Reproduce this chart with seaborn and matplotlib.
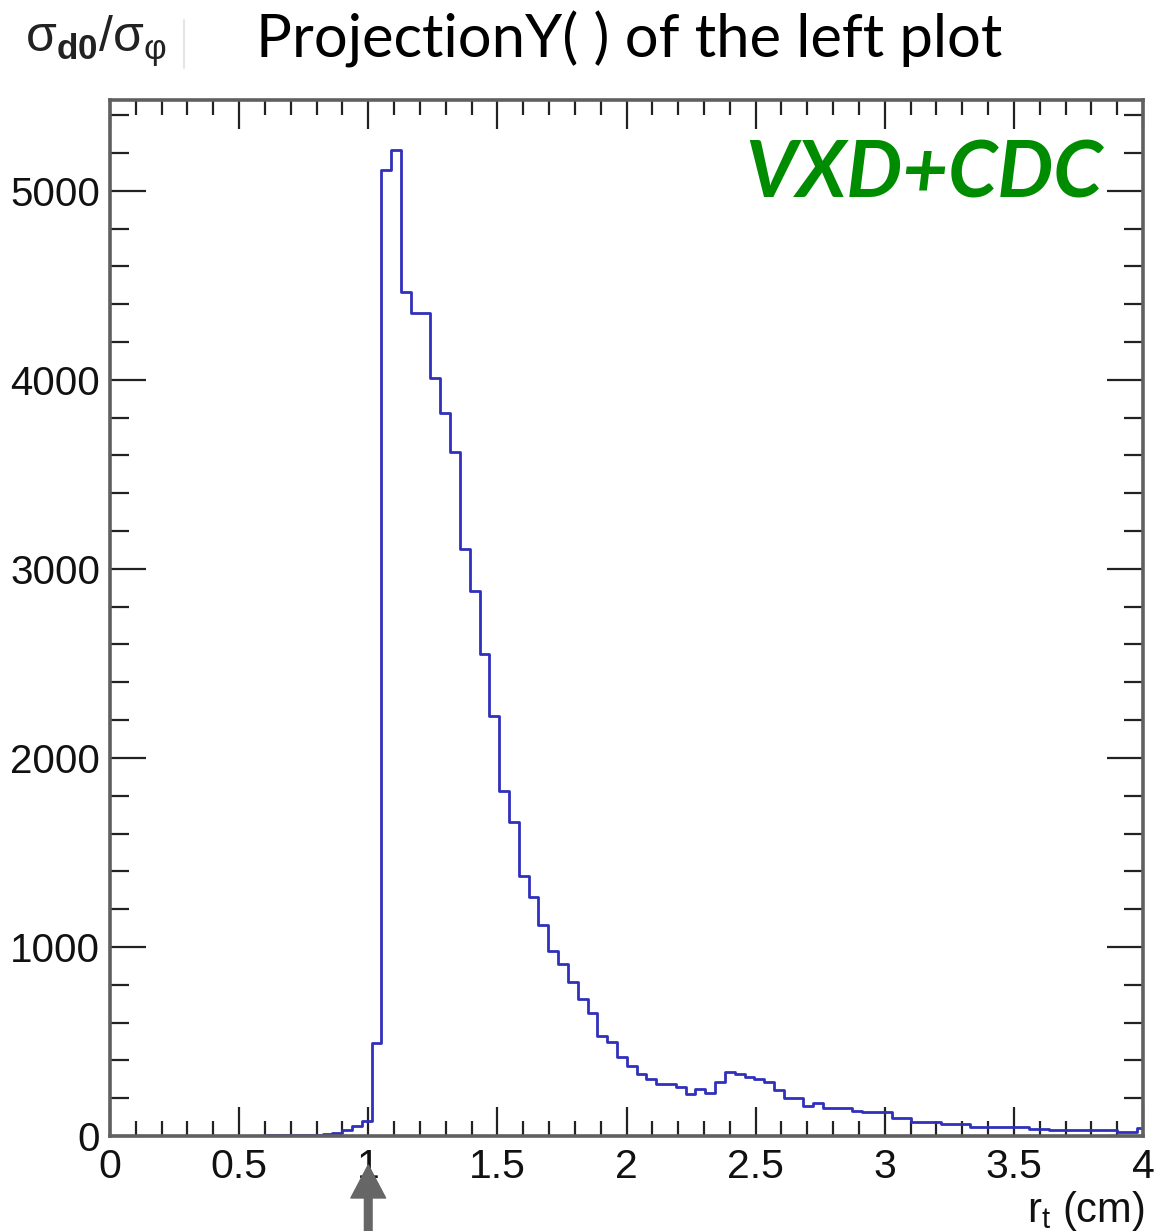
import numpy as np
import pandas as pd
import matplotlib
matplotlib.use("Agg")
import matplotlib.pyplot as plt
import seaborn as sns
from matplotlib.ticker import MultipleLocator, FixedLocator, FixedFormatter
from matplotlib.lines import Line2D

# ---------------- data ----------------
bin_start = 0.595      # left edge of first filled bin (cm)
bin_width = 0.038      # bin width (cm)
counts = [3, 3, 3, 4, 5, 6, 8, 18, 32, 52, 78,
          492, 5111, 5217, 4463, 4354, 4354, 4011, 3826, 3617, 3106,
          2882, 2552, 2220, 1823, 1659, 1376, 1262, 1117, 981, 911,
          812, 724, 653, 529, 499, 417, 372, 328, 302, 275,
          275, 258, 222, 247, 229, 288, 340, 328, 314, 300,
          288, 244, 200, 200, 159, 176, 147, 147, 147, 134,
          125, 125, 125, 94, 94, 76, 76, 76, 64, 64,
          64, 46, 46, 46, 46, 46, 46, 37, 37, 32,
          32, 32, 32, 32, 32, 32, 23, 23, 41]
x_ticks = [0, 0.5, 1, 1.5, 2, 2.5, 3, 3.5, 4]
x_tick_labels = ["0", "0.5", "1", "1.5", "2", "2.5", "3", "3.5", "4"]
y_ticks = [0, 1000, 2000, 3000, 4000, 5000]
y_tick_labels = ["0", "1000", "2000", "3000", "4000", "5000"]
x_label = r"r$_\mathregular{t}$ (cm)"
title = "ProjectionY( ) of the left plot"
hist_title = r"σ$_\mathbf{d0}$/σ$_\mathregular{φ}$"
tag = "VXD+CDC"
arrow_x = 1.0

# ---------------- style ----------------
sns.set_theme(style="white")
plt.rcParams['font.family'] = ['Liberation Sans', 'DejaVu Sans']
plt.rcParams['mathtext.fontset'] = 'custom'
plt.rcParams['mathtext.rm'] = 'Liberation Sans'
plt.rcParams['mathtext.it'] = 'Liberation Sans:italic'
plt.rcParams['mathtext.bf'] = 'Liberation Sans:bold'

W, H = 1165, 1231
fig = plt.figure(figsize=(W / 100, H / 100), dpi=100)
fig.patch.set_facecolor("white")
ax_l, ax_r, ax_t, ax_b = 110, 1143, 100, 1136
ax = fig.add_axes([ax_l / W, 1 - ax_b / H, (ax_r - ax_l) / W, (ax_b - ax_t) / H])

n_bins = len(counts)
edges = bin_start + bin_width * np.arange(n_bins + 1)
centers = (edges[:-1] + edges[1:]) / 2
df = pd.DataFrame({"r": centers, "n": counts})

sns.histplot(data=df, x="r", weights="n", bins=n_bins,
             binrange=(float(edges[0]), float(edges[-1])), element="step",
             fill=False, color="#3030bc", linewidth=2.0, ax=ax)

ax.set_xlim(0, 4)
ax.set_ylim(0, 5480)
ax.set_xlabel("")
ax.set_ylabel("")

ax.xaxis.set_major_locator(FixedLocator(x_ticks))
ax.xaxis.set_major_formatter(FixedFormatter(x_tick_labels))
ax.xaxis.set_minor_locator(MultipleLocator(0.1))
ax.yaxis.set_major_locator(FixedLocator(y_ticks))
ax.yaxis.set_major_formatter(FixedFormatter(y_tick_labels))
ax.yaxis.set_minor_locator(MultipleLocator(200))

for s in ax.spines.values():
    s.set_color("#606060")
    s.set_linewidth(2.6)
ax.tick_params(which="both", direction="in", bottom=True, top=True,
               left=True, right=True, color="#222222", width=1.6)
ax.tick_params(axis="x", which="major", length=21, labelsize=29.5, pad=9,
               labelcolor="#111111")
ax.tick_params(axis="x", which="minor", length=10.5)
ax.tick_params(axis="y", which="major", length=26, labelsize=29, pad=7,
               labelcolor="#111111")
ax.tick_params(axis="y", which="minor", length=13.5)

# texts
fig.text(1145 / W, 1 - 1222 / H, x_label, fontsize=30, ha="right",
         va="baseline", color="#111111")
fig.text(629 / W, 1 - 58 / H, title, fontsize=43, ha="center",
         va="baseline", family=["Lato", "DejaVu Sans"], color="black")
fig.text(25 / W, 1 - 52 / H, hist_title, fontsize=36, ha="left",
         va="baseline", color="#222222")
fig.add_artist(Line2D([184 / W, 184 / W], [1 - 20 / H, 1 - 68 / H],
                      color="#e4e4e4", lw=1.5))
fig.text(1103 / W, 1 - 198 / H, tag, fontsize=57, ha="right", va="baseline",
         family=["Lato", "DejaVu Sans"], style="italic", weight="bold",
         color="#008c00")

# arrow marking r_t = 1 cm
ax.annotate("", xy=(arrow_x, -(1165 - ax_b) / (ax_b - ax_t)),
            xytext=(arrow_x, -(1240 - ax_b) / (ax_b - ax_t)),
            xycoords=ax.get_xaxis_transform(), textcoords=ax.get_xaxis_transform(),
            annotation_clip=False,
            arrowprops=dict(arrowstyle="simple,head_length=0.95,head_width=1.0,tail_width=0.22",
                            color="#666666", mutation_scale=25, shrinkA=0, shrinkB=0))

fig.savefig("out.png", dpi=100)
